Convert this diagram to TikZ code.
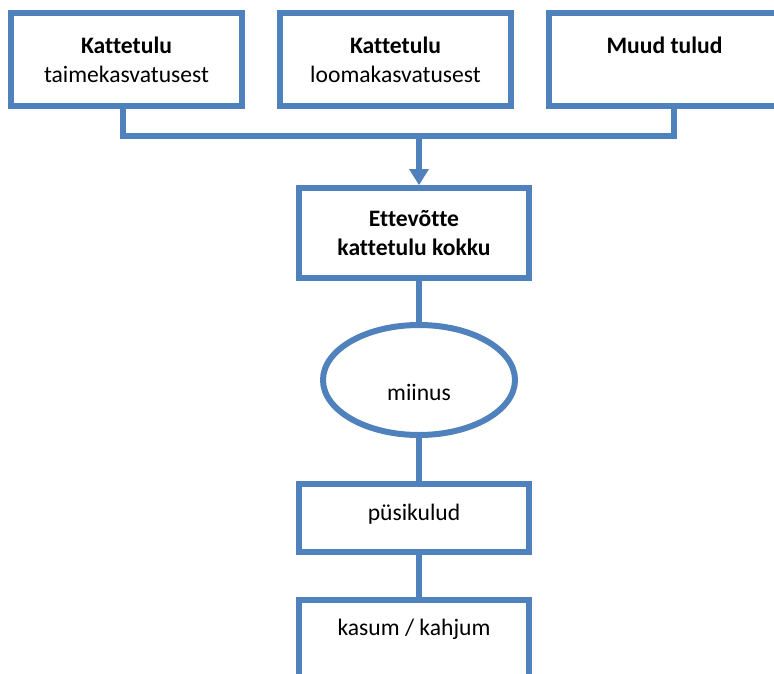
\documentclass[tikz,border=0pt]{standalone}
\usepackage{fontspec}
\setmainfont[Ligatures=NoCommon]{Carlito}
\usepackage{tikz}
\usetikzlibrary{
    arrows.meta,
    shapes.geometric
}
\definecolor{flowblue}{HTML}{4F81BD}
\tikzset{
    flowbox/.style={
        draw=flowblue, line width=6pt, rectangle, inner sep=0pt,
        align=center, font=\fontsize{23.6}{29}\selectfont
    },
    topbox/.style={flowbox, minimum width=231pt, minimum height=93pt},
    midbox/.style={flowbox, minimum width=230pt},
    oval/.style={flowbox, ellipse, minimum width=192pt, minimum height=110pt},
    link/.style={draw=flowblue, line width=6pt},
}

\begin{document}
\begin{tikzpicture}[x=1pt,y=-1pt]
      \useasboundingbox (0,0) rectangle (774,673);
      \clip (0,0) rectangle (774,673);
      % income boxes
      \node[topbox] (taime) at (126.5,59.5) {\textbf{Kattetulu}\\taimekasvatusest};
      \node[topbox] (looma) at (395.5,59.5) {\textbf{Kattetulu}\\loomakasvatusest};
      \node[topbox] (muud)  at (664.5,59.5) {\textbf{Muud tulud}\\\phantom{t}};
      % main column
      \node[midbox, minimum height=90pt] (kokku) at (414,233) {\textbf{Ettevõtte}\\\textbf{kattetulu kokku}};
      \node[oval, text height=40pt, text depth=0pt] (miinus) at (419,380) {miinus};
      \node[midbox, minimum height=68pt, text height=9pt, text depth=5pt] (pysi) at (414,518) {püsikulud};
      \node[midbox, minimum height=90pt, text height=0pt, text depth=20pt] (kasum) at (414,645) {kasum / kahjum};
      \coordinate (bar) at (419,136);
      \draw[link] ([xshift=-3.5pt]taime.south) |- (bar) -| ([xshift=9.5pt]muud.south);
      \draw[link, -{Triangle[width=20pt, length=16pt, line width=0pt]}] (bar) -- (kokku.north -| bar);
      \draw[link] (kokku.south -| miinus) -- (miinus.north);
      \draw[link] (miinus.south) -- (pysi.north -| miinus);
      \draw[link] (pysi.south -| miinus) -- (kasum.north -| miinus);
\end{tikzpicture}
\end{document}
